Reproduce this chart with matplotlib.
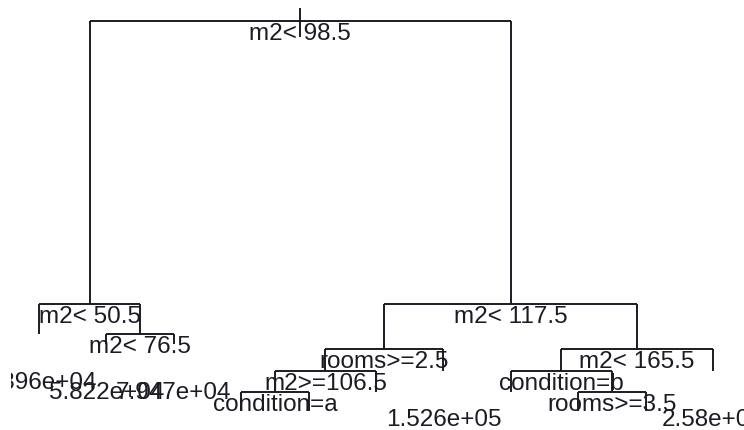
import matplotlib
matplotlib.use("Agg")
import matplotlib.pyplot as plt
from matplotlib.transforms import offset_copy

# regression tree, rpart numbering: children of node n are 2n and 2n+1
split_nodes = [1, 2, 3, 5, 6, 7, 12, 14, 24, 29]
split_labels = ["m2< 98.5", "m2< 50.5", "m2< 117.5", "m2< 76.5", "rooms>=2.5",
                "m2< 165.5", "m2>=106.5", "condition=b", "condition=a", "rooms>=3.5"]

leaf_nodes = [4, 10, 11, 13, 15, 25, 28, 48, 49, 58, 59]
leaf_labels = ["4.396e+04", "5.822e+04", "7.947e+04", "1.526e+05", "2.58e+05",
               None, None, None, None, None, None]

# node heights on the deviance scale (root = 1, deepest leaves = 0)
height_nodes = [1, 2, 3, 4, 5, 10, 11, 6, 7, 12, 13, 14, 15, 24, 25, 28, 29, 48, 49, 58, 59]
height_values = [1.0, 0.274, 0.274, 0.197, 0.197, 0.172, 0.172, 0.159, 0.159,
                 0.103, 0.103, 0.103, 0.103, 0.049, 0.049, 0.049, 0.049,
                 0.0, 0.0, 0.0, 0.0]

FONT = "Liberation Sans"
INK = "#1b1b24"

height = dict(zip(height_nodes, height_values))
splits = dict(zip(split_nodes, split_labels))
leaves = dict(zip(leaf_nodes, leaf_labels))


def layout(node, xpos, counter):
    # leaves get 1, 2, 3, ... left to right; a split sits midway between its children
    if node in leaves:
        counter[0] += 1
        xpos[node] = counter[0]
    else:
        layout(2 * node, xpos, counter)
        layout(2 * node + 1, xpos, counter)
        xpos[node] = (xpos[2 * node] + xpos[2 * node + 1]) / 2
    return xpos


xpos = layout(1, {}, [0])

fig = plt.figure(figsize=(7.44, 4.31), dpi=100)
ax = fig.add_axes([11 / 744, 0, 733 / 744, 1])
ax.set_xlim(0.585, 11.46)
ax.set_ylim(-0.0487, 1.0564)
ax.axis("off")

line_kw = dict(color=INK, lw=1.4, solid_capstyle="butt")

# small stub above the root
ax.plot([xpos[1], xpos[1]], [height[1] + 0.033, height[1] - 0.042], **line_kw)

for node in splits:
    left, right = 2 * node, 2 * node + 1
    ax.plot([xpos[left], xpos[right]], [height[node], height[node]], **line_kw)
    for child in (left, right):
        ax.plot([xpos[child], xpos[child]], [height[node], height[child]], **line_kw)

# labels hang below the node; text is clipped to the plot region like R does
split_tr = offset_copy(ax.transData, fig=fig, y=-13, units="points")
leaf_tr = offset_copy(ax.transData, fig=fig, y=-39, units="points")
text_kw = dict(ha="center", va="baseline", fontsize=17.5, family=FONT,
               color=INK, clip_on=True)

for node, label in splits.items():
    ax.text(xpos[node], height[node], label, transform=split_tr, **text_kw)

for node, label in leaves.items():
    if label is None:
        continue
    ax.text(xpos[node], height[node], label, transform=leaf_tr, **text_kw)

fig.savefig("out.png", dpi=100)
